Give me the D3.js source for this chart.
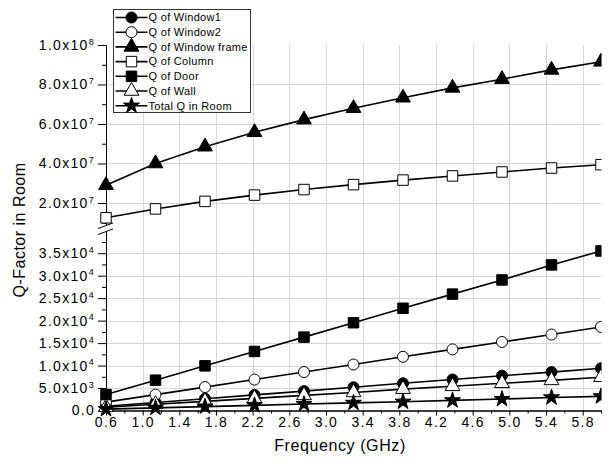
<!DOCTYPE html>
<html>
<head>
<meta charset="utf-8">
<script src="https://cdn.jsdelivr.net/npm/d3@7"></script>
<style>
  body { margin: 0; background: #fff; }
  svg { font-family: Arial, "Liberation Sans", sans-serif; }
</style>
</head>
<body>
<div id="chart"></div>
<script>
// frequency points (GHz)
const freq = [0.6, 1.14, 1.68, 2.22, 2.76, 3.30, 3.84, 4.38, 4.92, 5.46, 6.0];

// values
const qWindow1 = [940, 1790, 2630, 3480, 4320, 5170, 6050, 6900, 7750, 8550, 9400];
const qWindow2 = [1860, 3530, 5210, 6880, 8560, 10230, 11950, 13600, 15250, 16900, 18600];
const qFrame = [2.90e7, 4.00e7, 4.85e7, 5.58e7, 6.22e7, 6.80e7, 7.33e7, 7.83e7, 8.27e7, 8.74e7, 9.15e7];
const qColumn = [1.25e7, 1.70e7, 2.08e7, 2.40e7, 2.68e7, 2.93e7, 3.16e7, 3.37e7, 3.57e7, 3.77e7, 3.94e7];
const qDoor = [3550, 6750, 9940, 13140, 16330, 19530, 22750, 25900, 29050, 32400, 35500];
const qWall = [730, 1390, 2040, 2700, 3360, 4020, 4750, 5380, 6050, 6700, 7400];
const qTotal = [310, 590, 870, 1150, 1430, 1700, 1950, 2250, 2550, 2900, 3150];

const xTicks = [0.6, 1.0, 1.4, 1.8, 2.2, 2.6, 3.0, 3.4, 3.8, 4.2, 4.6, 5.0, 5.4, 5.8];
const upperTicks = [2e7, 4e7, 6e7, 8e7, 1e8];
const lowerTicks = [0, 5000, 10000, 15000, 20000, 25000, 30000, 35000];

const series = [
  { name: "Q of Window1", values: qWindow1, panel: "lower", shape: d3.symbolCircle, size: 95, fill: "#000" },
  { name: "Q of Window2", values: qWindow2, panel: "lower", shape: d3.symbolCircle, size: 95, fill: "#fff" },
  { name: "Q of Window frame", values: qFrame, panel: "upper", shape: d3.symbolTriangle, size: 95, fill: "#000" },
  { name: "Q of Column", values: qColumn, panel: "upper", shape: d3.symbolSquare, size: 110, fill: "#fff" },
  { name: "Q of Door", values: qDoor, panel: "lower", shape: d3.symbolSquare, size: 110, fill: "#000" },
  { name: "Q of Wall", values: qWall, panel: "lower", shape: d3.symbolTriangle, size: 95, fill: "#fff" },
  { name: "Total Q in Room", values: qTotal, panel: "lower", shape: d3.symbolStar, size: 80, fill: "#000" },
];

const width = 609, height = 470;
const plotLeft = 106, plotRight = 601, plotTop = 45, plotBottom = 410.5;

const x = d3.scaleLinear().domain([0.6, 6.0]).range([plotLeft, plotRight]);
const yUp = d3.scaleLinear().domain([8.4e6, 1e8]).range([225.9, plotTop]);
const yLow = d3.scaleLinear().domain([0, 39900]).range([plotBottom, 231.2]);

const svg = d3.select("#chart").append("svg")
  .attr("width", width)
  .attr("height", height);

svg.append("defs").append("clipPath").attr("id", "plotClip")
  .append("rect").attr("x", 0).attr("y", 0).attr("width", plotRight + 0.5).attr("height", height);

// grid
const grid = svg.append("g").attr("stroke", "#d6d6d6").attr("stroke-width", 1);
grid.selectAll("line.vx")
  .data(xTicks.slice(1))
  .join("line")
  .attr("class", "vx")
  .attr("x1", (d) => Math.round(x(d)) + 0.5)
  .attr("x2", (d) => Math.round(x(d)) + 0.5)
  .attr("y1", plotTop)
  .attr("y2", plotBottom);
grid.selectAll("line.hu")
  .data(upperTicks.slice(0, -1))
  .join("line")
  .attr("class", "hu")
  .attr("x1", plotLeft)
  .attr("x2", plotRight)
  .attr("y1", (d) => Math.round(yUp(d)) + 0.5)
  .attr("y2", (d) => Math.round(yUp(d)) + 0.5);
grid.selectAll("line.hl")
  .data(lowerTicks.slice(1))
  .join("line")
  .attr("class", "hl")
  .attr("x1", plotLeft)
  .attr("x2", plotRight)
  .attr("y1", (d) => Math.round(yLow(d)) + 0.5)
  .attr("y2", (d) => Math.round(yLow(d)) + 0.5);

// superscript label helper
function sciLabel(text, v) {
  text.text(null);
  if (v === 0) {
    text.append("tspan").text("0.0");
    return;
  }
  const e = Math.floor(Math.log10(v));
  const m = (v / Math.pow(10, e)).toFixed(1);
  text.append("tspan").text(m + "x10");
  text.append("tspan").attr("dy", "-0.6em").attr("font-size", "9px").text(e);
}

function styleAxis(g) {
  g.selectAll("path, line").attr("stroke", "#000").attr("stroke-width", 1);
  g.selectAll("text").attr("fill", "#000").attr("font-size", "14px").attr("letter-spacing", "1.3px");
}

// x axis
const xMinor = d3.range(0.8, 6.01, 0.2).filter((d) => Math.abs(((d - 0.6) / 0.4) - Math.round((d - 0.6) / 0.4)) > 0.01);
svg.append("g")
  .attr("transform", `translate(0, ${plotBottom})`)
  .call(d3.axisBottom(x).tickValues(xMinor).tickSize(3).tickFormat("").tickSizeOuter(0))
  .call(styleAxis);
svg.append("g")
  .attr("transform", `translate(0, ${plotBottom})`)
  .call(d3.axisBottom(x).tickValues(xTicks).tickSize(5).tickPadding(2).tickFormat(d3.format(".1f")).tickSizeOuter(0))
  .call(styleAxis);

// left axes (two panels)
const upMinor = d3.range(1e7, 1e8, 2e7);
const lowMinor = d3.range(2500, 39900, 5000);

svg.append("g")
  .attr("transform", `translate(${plotLeft}, 0)`)
  .call(d3.axisLeft(yUp).tickValues(upMinor).tickSize(4).tickFormat("").tickSizeOuter(0))
  .call(styleAxis);
svg.append("g")
  .attr("transform", `translate(${plotLeft}, 0)`)
  .call(d3.axisLeft(yUp).tickValues(upperTicks).tickSize(8).tickPadding(3).tickSizeOuter(0))
  .call(styleAxis)
  .selectAll(".tick text").each(function (d) { sciLabel(d3.select(this), d); });

svg.append("g")
  .attr("transform", `translate(${plotLeft}, 0)`)
  .call(d3.axisLeft(yLow).tickValues(lowMinor).tickSize(4).tickFormat("").tickSizeOuter(0))
  .call(styleAxis);
svg.append("g")
  .attr("transform", `translate(${plotLeft}, 0)`)
  .call(d3.axisLeft(yLow).tickValues(lowerTicks).tickSize(8).tickPadding(3).tickSizeOuter(0))
  .call(styleAxis)
  .selectAll(".tick text").each(function (d) { sciLabel(d3.select(this), d); });

// axis break marks
const brk = svg.append("g");
brk.append("polygon")
  .attr("points", "98,228.5 113,223 113,229 98,234.5")
  .attr("fill", "#fff");
brk.append("line").attr("x1", 98).attr("y1", 228.5).attr("x2", 113).attr("y2", 223).attr("stroke", "#000");
brk.append("line").attr("x1", 98).attr("y1", 234.5).attr("x2", 113).attr("y2", 229).attr("stroke", "#000");

// series
const plot = svg.append("g").attr("clip-path", "url(#plotClip)");
series.forEach((s) => {
  const y = s.panel === "upper" ? yUp : yLow;
  const pts = freq.map((f, i) => [x(f), y(s.values[i])]);
  plot.append("path")
    .attr("d", d3.line()(pts))
    .attr("fill", "none")
    .attr("stroke", "#000")
    .attr("stroke-width", 1.6);
  plot.selectAll(null)
    .data(pts)
    .join("path")
    .attr("transform", (d) => `translate(${d[0]}, ${d[1]})`)
    .attr("d", d3.symbol(s.shape, s.size))
    .attr("fill", s.fill)
    .attr("stroke", "#000")
    .attr("stroke-width", 1);
});

// axis titles
svg.append("text")
  .attr("x", 340)
  .attr("y", 451)
  .attr("text-anchor", "middle")
  .attr("font-size", "16px")
  .attr("letter-spacing", "0.6px")
  .text("Frequency (GHz)");
svg.append("text")
  .attr("transform", "translate(25, 230) rotate(-90)")
  .attr("text-anchor", "middle")
  .attr("font-size", "16px")
  .attr("letter-spacing", "0.5px")
  .text("Q-Factor in Room");

// legend
const legend = svg.append("g").attr("transform", "translate(113.5, 9.5)");
legend.append("rect")
  .attr("width", 137)
  .attr("height", 103)
  .attr("fill", "#fff")
  .attr("stroke", "#333");
const items = legend.selectAll("g")
  .data(series)
  .join("g")
  .attr("transform", (d, i) => `translate(0, ${8 + i * 14.7})`);
items.append("line")
  .attr("x1", 2).attr("x2", 34)
  .attr("stroke", "#000").attr("stroke-width", 1.6);
items.append("path")
  .attr("transform", "translate(18, 0)")
  .attr("d", (d) => d3.symbol(d.shape, d.size)())
  .attr("fill", (d) => d.fill)
  .attr("stroke", "#000");
items.append("text")
  .attr("x", 35)
  .attr("dy", "0.35em")
  .attr("font-size", "11px")
  .attr("letter-spacing", "0.3px")
  .text((d) => d.name);
</script>
</body>
</html>
